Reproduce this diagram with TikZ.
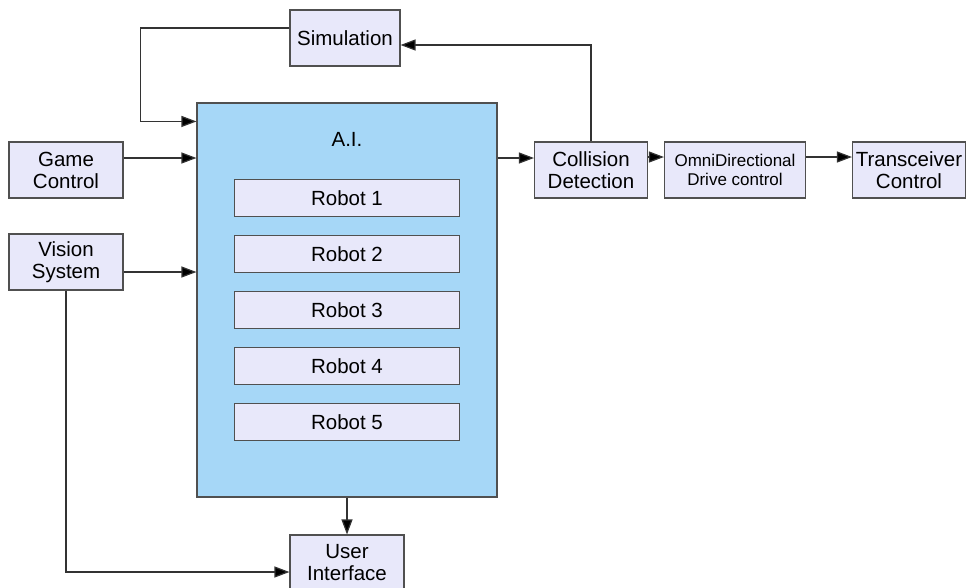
\documentclass[tikz,border=0pt]{standalone}
\usepackage{fontspec}
\setmainfont{Liberation Sans}
\usetikzlibrary{arrows.meta}

\definecolor{boxfill}{HTML}{E8E8FA}
\definecolor{aifill}{HTML}{A6D7F7}
\definecolor{edge}{HTML}{505050}

\begin{document}
\begin{tikzpicture}[x=1pt,y=-1pt,
    box/.style={draw=edge,fill=boxfill,line width=1.1pt,minimum width=114pt,minimum height=56pt,
        inner sep=0pt,align=center,font=\fontsize{20.5}{22}\selectfont},
    robotbox/.style={box,minimum width=225pt,minimum height=37pt},
    link/.style={draw=black!80,line width=1.2pt,-{Triangle[length=15pt,width=11pt,fill=black]}}]
    \useasboundingbox (0,0) rectangle (967,587);
    % A.I. block with the robots
    \node[draw=edge,fill=aifill,line width=1.1pt,minimum width=300pt,minimum height=394pt] (ai) at (347,300) {};
    \node[font=\fontsize{20.5}{22}\selectfont] (ailabel) at (347,139) {A.I.};
    \foreach \i in {1,...,5}
        \node[robotbox] (robot\i) at ({347},{142+56*\i}) {Robot \i};
    % inputs
    \node[box,minimum width=110pt] (sim) at (345,38) {Simulation};
    \node[box] (game) at (66,170) {Game\\Control};
    \node[box] (vision) at (66,262) {Vision\\System};
    % output chain
    \node[box,minimum width=113pt] (coll) at (591,170) {Collision\\Detection};
    \node[box,minimum width=141pt,font=\fontsize{17}{19}\selectfont] (omni) at (735,170) {OmniDirectional\\Drive control};
    \node[box,minimum width=113pt] (trans) at (909,170) {Transceiver\\Control};
    \node[box] (ui) at (347,563) {User\\Interface};
    % connectors
    \draw[link] ([yshift=10pt]sim.west) -- ++(-149,0) |- ([yshift=-19pt]ai.north west);
    \draw[link] ([yshift=12pt]game.east) -- ([yshift=12pt]game.east -| ai.west);
    \draw[link] ([yshift=-10pt]vision.east) -- ([yshift=-10pt]vision.east -| ai.west);
    \draw[link] ([yshift=12pt]coll.west -| ai.east) -- ([yshift=12pt]coll.west);
    \draw[link] (coll.north) |- ([yshift=-7pt]sim.east);
    \draw[link] ([yshift=13pt]coll.east) -- ([yshift=13pt]omni.west);
    \draw[link] ([yshift=13pt]omni.east) -- ([yshift=13pt]trans.west);
    \draw[link] (ai.south) -- (ui.north);
    \draw[link] (vision.south) |- ([yshift=-9pt]ui.west);
\end{tikzpicture}
\end{document}
